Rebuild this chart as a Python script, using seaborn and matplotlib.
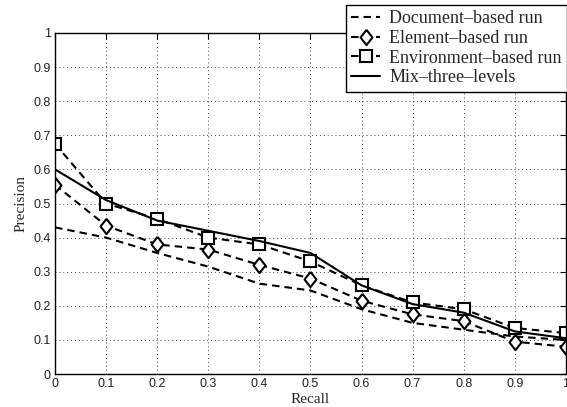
import matplotlib
matplotlib.use("Agg")
import matplotlib.pyplot as plt
import numpy as np
import pandas as pd
import seaborn as sns

# Recall levels and precision per run.
recall = [0.0, 0.1, 0.2, 0.3, 0.4, 0.5, 0.6, 0.7, 0.8, 0.9, 1.0]
doc_run = [0.43, 0.40, 0.355, 0.315, 0.265, 0.245, 0.19, 0.15, 0.13, 0.11, 0.10]
elem_run = [0.555, 0.435, 0.38, 0.365, 0.32, 0.28, 0.215, 0.175, 0.155, 0.095, 0.08]
env_run = [0.675, 0.50, 0.455, 0.40, 0.38, 0.33, 0.26, 0.21, 0.19, 0.135, 0.12]
mix_run = [0.60, 0.51, 0.45, 0.42, 0.39, 0.355, 0.26, 0.205, 0.18, 0.125, 0.105]

names = ["Document\u2013based run", "Element\u2013based run",
         "Environment\u2013based run", "Mix\u2013three\u2013levels"]
series = [doc_run, elem_run, env_run, mix_run]

df = pd.DataFrame({
    "Recall": recall * 4,
    "Precision": sum(series, []),
    "run": np.repeat(names, len(recall)),
})

sns.set_style("white")
plt.rcParams["font.family"] = ["Liberation Sans", "DejaVu Sans"]

fig = plt.figure(figsize=(5.67, 4.07), dpi=100)
ax = fig.add_axes([0.097, 0.081, 0.901, 0.838])

# taller-than-wide diamond, like the matlab one
diamond = [(0, 1), (0.78, 0), (0, -1), (-0.78, 0), (0, 1)]
dash = (3.6, 2.4)
styles = {
    names[0]: dict(dashes=dash, marker=None),
    names[1]: dict(dashes=dash, marker=diamond, markersize=11),
    names[2]: dict(dashes=dash, marker="s", markersize=8.5),
    names[3]: dict(linestyle="-", marker=None),
}

for name in names:
    sub = df[df["run"] == name]
    sns.lineplot(data=sub, x="Recall", y="Precision", ax=ax, color="black",
                 linewidth=1.5, markerfacecolor="white", markeredgecolor="black",
                 markeredgewidth=1.5, label=name, **styles[name])

ax.set_xlim(0, 1)
ax.set_ylim(0, 1)
ax.set_xticks(np.arange(0, 1.01, 0.1))
ax.set_yticks(np.arange(0, 1.01, 0.1))
ax.set_xticklabels(["0"] + ["%.1f" % v for v in np.arange(0.1, 0.95, 0.1)] + ["1"])
ax.set_yticklabels(["0"] + ["%.1f" % v for v in np.arange(0.1, 0.95, 0.1)] + ["1"])
ax.tick_params(direction="in", length=4, width=0.8, labelsize=9,
               top=True, right=True, colors="black", pad=3)
ax.tick_params(axis="x", labelcolor="#222222")
ax.tick_params(axis="y", labelcolor="#222222")
ax.grid(True, linestyle=(0, (1, 3)), color="#444444", linewidth=0.7)

for sp in ax.spines.values():
    sp.set_color("black")
    sp.set_linewidth(1.0)

ax.set_xlabel("Recall", family="Liberation Serif", fontsize=11, labelpad=2)
ax.set_ylabel("Precision", family="Liberation Serif", fontsize=11, labelpad=4)

ax.get_legend().remove()
handles, labels = ax.get_legend_handles_labels()
leg = fig.legend(handles, labels, loc="upper right", bbox_to_anchor=(1.0, 0.988),
                 prop={"family": "Liberation Serif", "size": 13},
                 frameon=True, fancybox=False, edgecolor="black",
                 framealpha=1, labelspacing=0.15, handlelength=1.6,
                 handletextpad=0.5, borderpad=0.3, borderaxespad=0.0)
leg.get_frame().set_linewidth(1.0)

fig.savefig("out.png", dpi=100)
